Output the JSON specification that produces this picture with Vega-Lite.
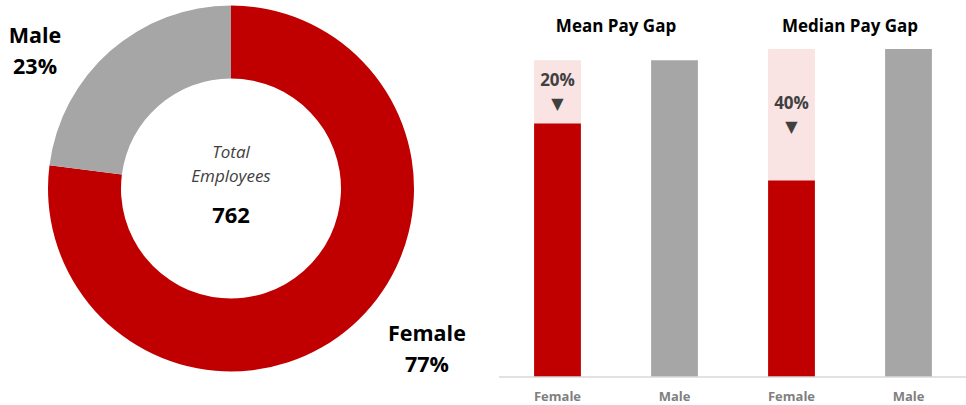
{
  "$schema": "https://vega.github.io/schema/vega-lite/v6.json",
  "padding": 0,
  "background": "white",
  "spacing": 37,
  "bounds": "flush",
  "config": {"view": {"stroke": null}, "font": "Open Sans"},
  "hconcat": [
    {
      "width": 462,
      "height": 377,
      "data": {"values": [
        {"gender": "Female", "count": 587, "share": "77%"},
        {"gender": "Male", "count": 175, "share": "23%"}
      ]},
      "transform": [{"calculate": "datum.gender + '\\n' + datum.share", "as": "label"}],
      "layer": [
        {
          "mark": {"type": "arc", "innerRadius": 110, "outerRadius": 183},
          "encoding": {
            "theta": {"field": "count", "type": "quantitative", "stack": true},
            "color": {"field": "gender", "type": "nominal", "scale": {"domain": ["Female", "Male"], "range": ["#C00000", "#A6A6A6"]}, "legend": null}
          }
        },
        {
          "mark": {"type": "text", "radius": 246, "thetaOffset": -0.2, "dy": -2.5, "fontSize": 21.5, "fontWeight": "bold", "lineBreak": "\n", "lineHeight": 31, "align": "center", "baseline": "middle", "color": "#000000"},
          "encoding": {
            "theta": {"field": "count", "type": "quantitative", "stack": true},
            "detail": {"field": "gender", "type": "nominal"},
            "text": {"field": "label", "type": "nominal"}
          }
        },
        {
          "transform": [{"aggregate": [{"op": "count", "as": "n"}]}],
          "mark": {"type": "text", "text": ["Total", "Employees"], "fontSize": 17, "fontStyle": "italic", "color": "#404040", "lineHeight": 23.5, "dy": -35.5, "align": "center", "baseline": "middle"}
        },
        {
          "transform": [{"aggregate": [{"op": "sum", "field": "count", "as": "total"}]}],
          "mark": {"type": "text", "fontSize": 22, "fontWeight": "bold", "color": "#000000", "dy": 27.5, "align": "center", "baseline": "middle"},
          "encoding": {"text": {"field": "total", "type": "quantitative"}}
        }
      ]
    },
    {
      "width": 468,
      "height": 377,
      "data": {"values": [
        {"measure": "Mean Pay Gap", "gender": "Female", "pay": 80, "male_pay": 100, "gap": "20%"},
        {"measure": "Mean Pay Gap", "gender": "Male", "pay": 100},
        {"measure": "Median Pay Gap", "gender": "Female", "pay": 62, "male_pay": 103.5, "gap": "40%"},
        {"measure": "Median Pay Gap", "gender": "Male", "pay": 103.5}
      ]},
      "layer": [
        {
          "transform": [{"filter": "datum.male_pay != null"}],
          "mark": {"type": "bar", "color": "#FAE3E3"},
          "encoding": {
            "x": {"field": "measure", "type": "nominal", "scale": {"paddingInner": 0, "paddingOuter": 0}, "axis": {"orient": "top", "offset": -37, "labelPadding": 2, "domain": false, "ticks": false, "labelAngle": 0, "labelFontSize": 17, "labelFontWeight": "bold", "labelColor": "#000000", "title": null}},
            "xOffset": {"field": "gender", "type": "nominal", "scale": {"paddingInner": 0.6, "paddingOuter": 0.3}},
            "y": {"field": "male_pay", "type": "quantitative", "scale": {"domain": [0, 119], "nice": false, "zero": true}, "axis": null}
          }
        },
        {
          "mark": {"type": "bar"},
          "encoding": {
            "x": {"field": "measure", "type": "nominal"},
            "xOffset": {"field": "gender", "type": "nominal"},
            "y": {"field": "pay", "type": "quantitative", "axis": null},
            "color": {"field": "gender", "type": "nominal", "scale": {"domain": ["Female", "Male"], "range": ["#C00000", "#A6A6A6"]}, "legend": null}
          }
        },
        {
          "transform": [{"aggregate": [{"op": "count", "as": "n"}]}],
          "mark": {"type": "rule", "color": "#D9D9D9", "strokeWidth": 1.5},
          "encoding": {"y": {"datum": 0, "type": "quantitative", "axis": null}}
        },
        {
          "mark": {"type": "text", "dy": 20, "fontSize": 13, "fontWeight": "bold", "color": "#7F7F7F", "baseline": "middle"},
          "encoding": {
            "x": {"field": "measure", "type": "nominal"},
            "xOffset": {"field": "gender", "type": "nominal"},
            "y": {"datum": 0, "type": "quantitative", "axis": null},
            "text": {"field": "gender", "type": "nominal"}
          }
        },
        {
          "transform": [
            {"filter": "datum.male_pay != null"},
            {"calculate": "(datum.pay + datum.male_pay) / 2", "as": "mid"}
          ],
          "layer": [
            {
              "mark": {"type": "text", "dy": -11, "fontSize": 17, "fontWeight": "bold", "color": "#404040", "baseline": "middle"},
              "encoding": {
                "x": {"field": "measure", "type": "nominal"},
                "xOffset": {"field": "gender", "type": "nominal"},
                "y": {"field": "mid", "type": "quantitative", "axis": null},
                "text": {"field": "gap", "type": "nominal"}
              }
            },
            {
              "mark": {"type": "text", "dy": 12, "fontSize": 16, "font": "DejaVu Sans", "color": "#404040", "baseline": "middle", "text": "▼"},
              "encoding": {
                "x": {"field": "measure", "type": "nominal"},
                "xOffset": {"field": "gender", "type": "nominal"},
                "y": {"field": "mid", "type": "quantitative", "axis": null}
              }
            }
          ]
        }
      ]
    }
  ]
}
